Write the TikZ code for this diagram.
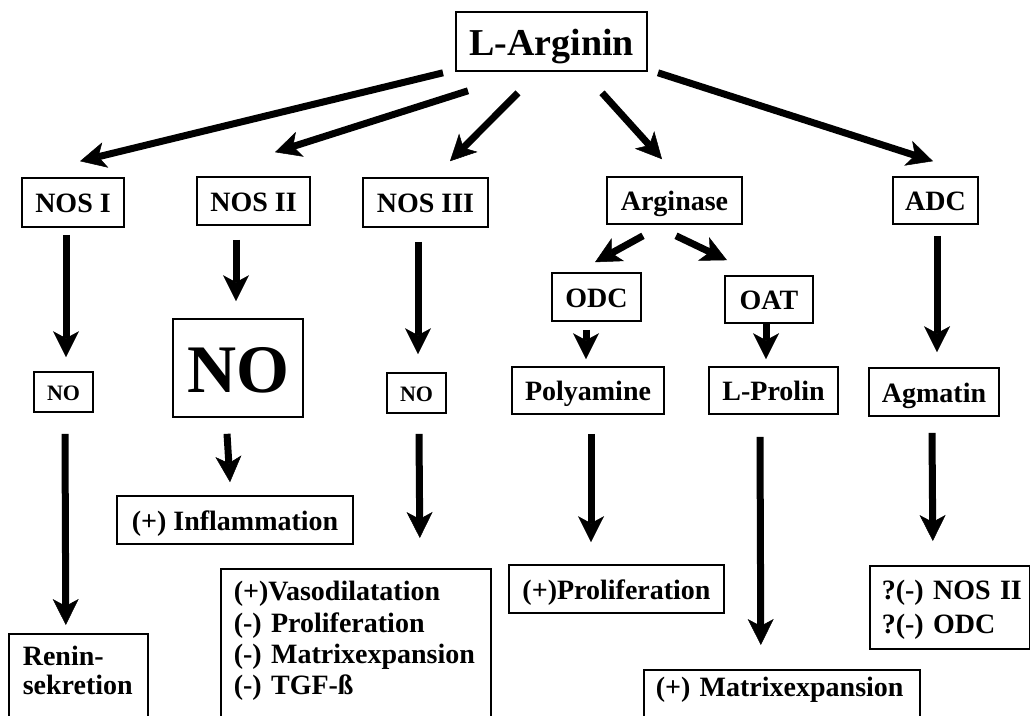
\documentclass[tikz,border=0pt]{standalone}
\usepackage{fontspec}
\setmainfont{Liberation Serif}
\usetikzlibrary{arrows.meta,calc}
\hyphenpenalty=10000
\exhyphenpenalty=10000
\tikzset{
  bx/.style={draw, line width=1.6pt, inner sep=0pt, text depth=0pt,
    font=\bfseries\fontsize{28}{31}\selectfont, text height=20pt},
  mline/.style={draw, line width=1.6pt, anchor=north west, align=left},
  arr/.style={line width=7pt, -{Stealth[length=26pt,width=26pt,inset=7pt,line width=0.5pt]}},
}
\begin{document}
\begin{tikzpicture}[x=1pt,y=-1pt]
\useasboundingbox (0,0) rectangle (1030,715);
\clip (0,0) rectangle (1030,715);
% top
\node[bx, font=\bfseries\fontsize{38}{40}\selectfont, text height=27.4pt, minimum width=191pt, minimum height=59pt] (arg) at (551.5,41.5) {L-Arginin};
% second row
\node[bx, minimum width=102pt, minimum height=49pt] (nos1) at (73,202.5) {NOS I};
\node[bx, minimum width=113pt, minimum height=48pt] (nos2) at (253.5,201) {NOS II};
\node[bx, minimum width=125pt, minimum height=49pt] (nos3) at (425.5,202.5) {NOS III};
\node[bx, minimum width=135pt, minimum height=47pt] (argi) at (674.5,200.5) {Arginase};
\node[bx, minimum width=85pt, minimum height=47pt] (adc) at (935.5,200.5) {ADC};
% ODC / OAT
\node[bx, minimum width=89pt, minimum height=48pt] (odc) at (596.5,297) {ODC};
\node[bx, minimum width=88pt, minimum height=47pt] (oat) at (769,299.5) {OAT};
% third row
\node[bx, font=\bfseries\fontsize{22}{24}\selectfont, text height=16pt, minimum width=59pt, minimum height=40pt] (no1) at (63.5,392) {NO};
\node[bx, font=\bfseries\fontsize{68}{70}\selectfont, text height=49pt, minimum width=130pt, minimum height=98pt] (nobig) at (238,368) {NO};
\node[bx, font=\bfseries\fontsize{22}{24}\selectfont, text height=16pt, minimum width=59pt, minimum height=40pt] (no3) at (416.5,393) {NO};
\node[bx, minimum width=152pt, minimum height=47pt] (poly) at (588,390.5) {Polyamine};
\node[bx, minimum width=129pt, minimum height=47pt] (prolin) at (773.5,390.5) {L-Prolin};
\node[bx, minimum width=130pt, minimum height=48pt] (agm) at (934,392) {Agmatin};
% results
\node[bx, minimum width=236pt, minimum height=48pt] (infl) at (235,520) {(+) Inflammation};
\node[bx, minimum width=215pt, minimum height=48pt] (prolif) at (616.5,589) {(+)Proliferation};
\node[mline, font=\bfseries\fontsize{28}{29}\selectfont, inner xsep=14pt, inner ysep=12pt, text width=111pt] (renin) at (8,633)
  {\rule{0pt}{20pt}Renin-\\sekretion\\\strut\\\strut};
\node[mline, font=\bfseries\fontsize{28}{31.3}\selectfont, inner xsep=13pt, inner ysep=12pt, text width=244pt] (vaso) at (220,568)
  {\rule{0pt}{20pt}(+)Vasodilatation\\(-)~Proliferation\\(-)~Matrixexpansion\\(-)~TGF-ß\\\strut};
\node[mline, font=\bfseries\fontsize{28}{31}\selectfont, inner xsep=12pt, inner ysep=7pt, text width=252pt] (matrix) at (643,669)
  {\rule{0pt}{20pt}(+)~Matrixexpansion\\\strut\\\strut};
\node[mline, font=\bfseries\fontsize{28}{34}\selectfont, inner xsep=12pt, inner ysep=9pt, text width=136pt] (qbox) at (869,565)
  {\rule{0pt}{25pt}?(-)~NOS~II\\?(-)~ODC};
% arrows from L-Arginin
\draw[arr] ($(arg.south)+(-108.5,1)$) -- ($(nos1.north)+(7,-16)$);
\draw[arr] ($(arg.south)+(-83.5,19)$) -- ($(nos2.north)+(21.5,-24)$);
\draw[arr] ($(arg.south)+(-33.5,21)$) -- ($(nos3.north)+(24.5,-16)$);
\draw[arr] ($(arg.south)+(50.5,21)$) -- ($(argi.north)+(-12.5,-17)$);
\draw[arr] ($(arg.south)+(106.5,1)$) -- ($(adc.north)+(-2.5,-15)$);
% second level
\draw[arr] ($(nos1.south)+(-7,7)$) -- ($(no1.north)+(2.5,-14)$);
\draw[arr] ($(nos2.south)+(-17.5,14)$) -- ($(nobig.north)+(-2,-17)$);
\draw[arr] ($(nos3.south)+(-7.5,14)$) -- ($(no3.north)+(1.5,-18)$);
\draw[arr] ($(argi.south)+(-31.5,11)$) -- ($(odc.north)+(-1.5,-10)$);
\draw[arr] ($(argi.south)+(1.5,11)$) -- ($(oat.north)+(-42,-15)$);
\draw[arr] ($(adc.south)+(1.5,11)$) -- ($(agm.north)+(3,-15)$);
\draw[arr] ($(odc.south)+(-10.5,8)$) -- ($(poly.north)+(-2,-7)$);
\draw[arr] ($(oat.south)+(-3,0)$) -- ($(prolin.north)+(-7.5,-7)$);
% third level
\draw[arr] ($(no1.south)+(1.5,21)$) -- ($(renin.north)+(-12.5,-8)$);
\draw[arr] ($(nobig.south)+(-11,16)$) -- ($(infl.north)+(-5,-13)$);
\draw[arr] ($(no3.south)+(2.5,20)$) -- ($(vaso.north)+(64,-30)$);
\draw[arr] ($(poly.south)+(3,19)$) -- ($(prolif.north)+(-25.5,-22)$);
\draw[arr] ($(prolin.south)+(-13.5,22)$) -- ($(matrix.north)+(-21,-24)$);
\draw[arr] ($(agm.south)+(-2,16)$) -- ($(qbox.north)+(-17,-24)$);
\end{tikzpicture}
\end{document}
